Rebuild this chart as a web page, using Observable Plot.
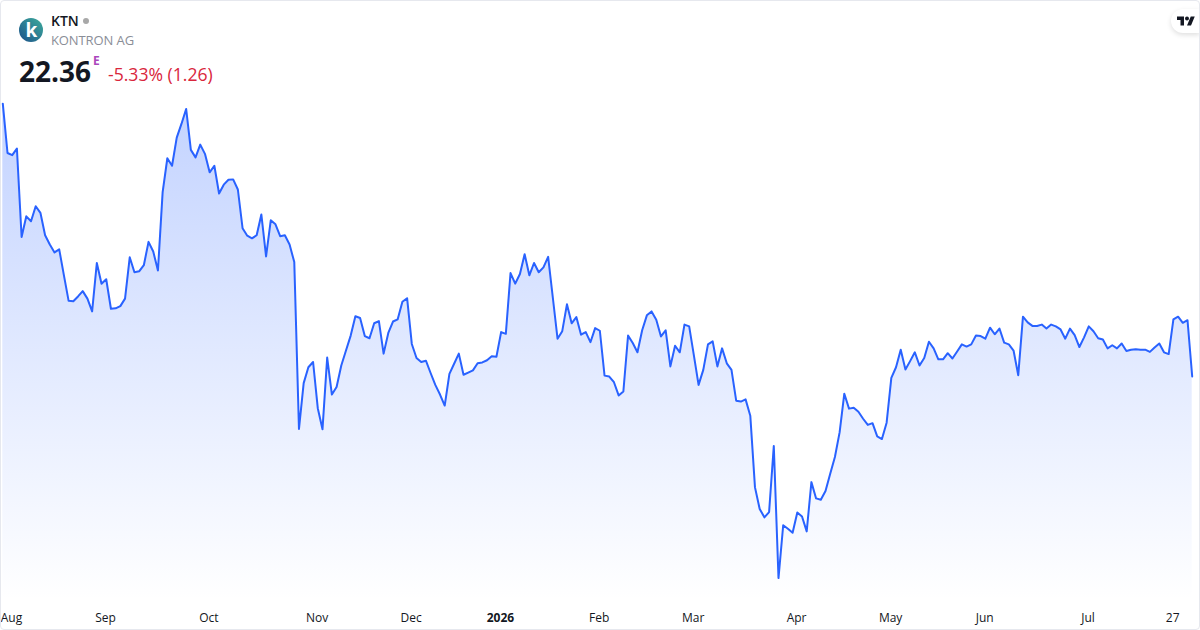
<!DOCTYPE html>
<html><head><meta charset="utf-8">
<script src="https://cdn.jsdelivr.net/npm/d3@7"></script>
<script src="https://cdn.jsdelivr.net/npm/@observablehq/plot@0.6"></script>
<style>
html,body{margin:0;padding:0;background:#fff;width:1200px;height:630px;overflow:hidden;font-family:"Open Sans",sans-serif}
#chart{position:absolute;left:0;top:0}
#frame{position:absolute;left:0;top:0;width:1198px;height:628px;border:1px solid #e6e8ee;border-radius:4px;pointer-events:none}
.t{position:absolute;white-space:nowrap;line-height:1}
#pill{position:absolute;left:1171px;top:9px;width:29px;height:24px;background:#fff;border-radius:12px 0 0 12px;box-shadow:0 2px 5px rgba(0,0,0,.13)}
</style></head><body>
<div id="chart"></div>
<svg class="t" style="left:19px;top:18px" width="24" height="24" viewBox="0 0 24 24">
<defs><linearGradient id="lg" x1="0.9" y1="0.1" x2="0.1" y2="0.9"><stop offset="0" stop-color="#3aa39a"/><stop offset="1" stop-color="#1f5a8c"/></linearGradient></defs>
<circle cx="12" cy="12" r="12" fill="url(#lg)"/>
<text x="12.5" y="18.5" text-anchor="middle" font-family="Open Sans" font-weight="700" font-size="19" fill="#fff">k</text>
</svg>
<div class="t" style="left:51px;top:14px;font-size:14px;font-weight:600;color:#131722">KTN</div>
<svg class="t" style="left:83px;top:18px" width="6" height="6"><circle cx="3" cy="3" r="3" fill="#a8a8a8"/></svg>
<div class="t" style="left:51px;top:34px;font-size:13px;color:#8a8e97;letter-spacing:-.1px">KONTRON AG</div>
<div class="t" style="left:19px;top:57px;font-size:28px;font-weight:700;color:#131722">22.36</div>
<div class="t" style="left:93px;top:55px;font-size:12px;font-weight:700;color:#ab47bc">E</div>
<div class="t" style="left:108px;top:66px;font-size:17.6px;color:#d9263c">-5.33% (1.26)</div>
<div id="pill"><svg style="position:absolute;left:6px;top:7px" width="18" height="10" viewBox="0 4 36 18"><path d="M14 22H7V11H0V4h14v18zM28 22h-8l7.5-18h8L28 22z" fill="#131722"/><circle cx="20" cy="8" r="4" fill="#131722"/></svg></div>
<div id="frame"></div>
<script>
const prices = [
28.56,27.44,27.39,27.54,25.53,26.00,25.89,26.23,26.08,25.57,25.36,25.18,25.25,24.66,24.08,24.07,24.18,24.30,24.13,23.84,
24.94,24.47,24.57,23.90,23.91,23.96,24.13,25.07,24.73,24.75,24.89,25.42,25.20,24.77,26.55,27.32,27.15,27.79,28.10,28.44,
27.51,27.34,27.63,27.42,27.00,27.15,26.52,26.72,26.83,26.84,26.61,25.73,25.56,25.50,25.57,26.04,25.09,25.91,25.82,25.55,
25.57,25.36,24.96,21.17,22.21,22.57,22.69,21.64,21.16,22.79,21.95,22.12,22.61,22.95,23.29,23.73,23.69,23.28,23.23,23.57,
23.62,22.88,23.35,23.61,23.66,24.06,24.14,23.10,22.78,22.69,22.72,22.44,22.17,21.95,21.70,22.42,22.65,22.88,22.40,22.45,
22.50,22.66,22.68,22.73,22.82,22.81,23.37,23.33,24.71,24.47,24.69,25.14,24.66,24.94,24.73,24.84,25.08,24.15,23.22,23.39,
24.00,23.57,23.71,23.31,23.37,23.14,23.46,23.40,22.38,22.36,22.23,21.93,22.02,23.29,23.12,22.91,23.41,23.75,23.84,23.65,
23.27,23.41,22.59,23.06,22.91,23.54,23.50,22.84,22.17,22.51,23.09,23.16,22.59,23.00,22.66,22.51,21.81,21.79,21.84,21.47,
19.84,19.35,19.16,19.28,20.78,17.78,18.98,18.90,18.81,19.27,19.18,18.84,19.96,19.59,19.56,19.76,20.15,20.53,21.09,21.97,
21.63,21.65,21.56,21.40,21.26,21.30,21.00,20.94,21.31,22.33,22.57,22.97,22.52,22.71,22.91,22.61,22.78,23.15,23.00,22.75,
22.75,22.89,22.77,22.93,23.09,23.04,23.09,23.29,23.28,23.22,23.47,23.32,23.45,23.13,23.09,22.95,22.39,23.72,23.59,23.51,
23.51,23.54,23.45,23.54,23.50,23.43,23.22,23.45,23.30,23.03,23.25,23.50,23.39,23.23,23.20,23.00,23.07,23.00,23.11,22.94,
22.97,22.98,22.97,22.97,22.92,23.02,23.11,22.91,22.87,23.66,23.72,23.58,23.64,22.36];
const tickLabels = ["Aug","Sep","Oct","Nov","Dec","Feb","Mar","Apr","May","Jun","Jul","27"];
const tickIndex  = [2,22,44,67,87,127,147,169,189,209,231,249];
const yearLabel = "2026";
const yearIndex = 106;
const baseline = 17.27;
const sessions = prices.map((p,i)=>i);

const gradient = () => {
  const defs = d3.create("svg:defs");
  const g = defs.append("linearGradient").attr("id","fillGrad").attr("x1",0).attr("y1",0).attr("x2",0).attr("y2",1);
  g.append("stop").attr("offset","0%").attr("stop-color","#2962ff").attr("stop-opacity",0.28);
  g.append("stop").attr("offset","100%").attr("stop-color","#2962ff").attr("stop-opacity",0);
  return defs.node();
};
const axisStyle = {anchor:"bottom",tickSize:0,tickPadding:13,dx:-0.7,label:null,fontSize:12,color:"#131722"};
const plot = Plot.plot({
  width:1200,height:630,marginTop:0,marginBottom:30,marginLeft:0,marginRight:0,
  style:{background:"transparent",fontFamily:"'Open Sans',sans-serif",fontSize:"12px",color:"#131722"},
  x:{type:"linear",domain:[0,253],range:[2.3,1191.7]},
  y:{domain:[baseline,30.905],range:[600,0]},
  marks:[
    gradient,
    Plot.areaY(sessions,{x:d=>d,y1:()=>baseline,y2:d=>prices[d],fill:"url(#fillGrad)"}),
    Plot.lineY(sessions,{x:d=>d,y:d=>prices[d],stroke:"#2962ff",strokeWidth:2,strokeLinejoin:"round"}),
    Plot.axisX({...axisStyle,ticks:tickIndex,tickFormat:d=>tickLabels[tickIndex.indexOf(d)]}),
    Plot.axisX({...axisStyle,ticks:[yearIndex],tickFormat:()=>yearLabel,fontWeight:700}),
    Plot.axisY({ticks:[],label:null,tickSize:0})
  ]
});
document.getElementById("chart").appendChild(plot);
</script>
</body></html>
